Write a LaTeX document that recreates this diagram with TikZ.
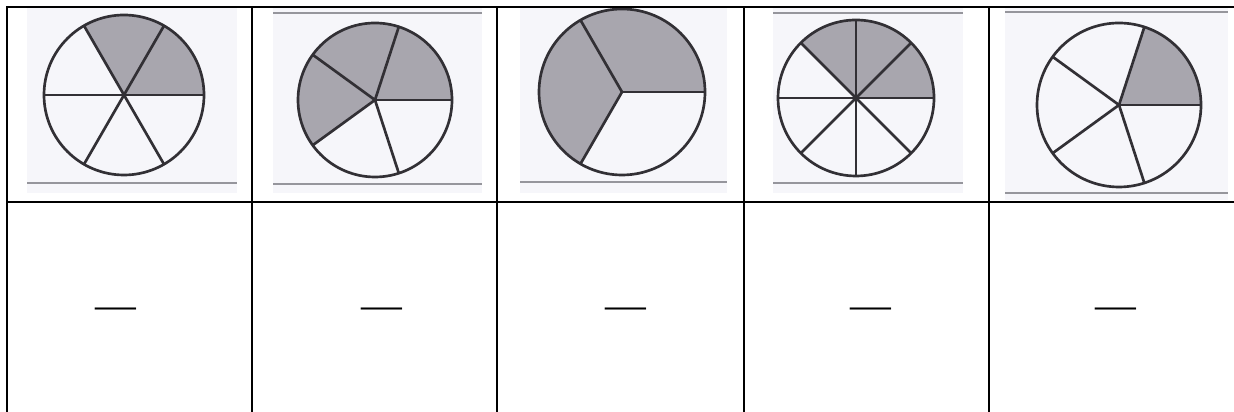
\documentclass[tikz,border=0pt]{standalone}
\usepackage{fontspec}
\newfontfamily\blankfont{Liberation Serif}
\usetikzlibrary{positioning}

\definecolor{scanbg}{RGB}{246,246,250}
\definecolor{scanline}{RGB}{150,150,156}
\definecolor{pieedge}{RGB}{50,48,53}
\definecolor{pieshade}{RGB}{168,166,174}

\begin{document}
\begin{tikzpicture}[
    x=0.025cm, y=0.025cm,
    grid/.style={draw=black, line width=1.4pt},
    scan/.style={fill=scanbg},
    scanrule/.style={draw=scanline, line width=1pt},
    slice/.style={fill=pieshade},
    pie/.style={draw=pieedge, line width=1.9pt},
    blank/.style={inner sep=0pt, anchor=north, font=\blankfont\fontsize{29}{29}\selectfont}
]
    \useasboundingbox (0,0) rectangle (1234,412);

    % Scanned picture backgrounds
    \foreach \xa/\xb/\yb in {27/237/219, 273/482/219, 520/727/219, 773/963/219, 1005/1228/212}
        \fill[scan] (\xa,\yb) rectangle (\xb,405);

    % Grey rules of the scans
    \foreach \xa/\xb/\y in {27/237/229, 273/482/399, 273/482/228, 520/727/230, 773/963/399, 773/963/229, 1005/1228/400, 1005/1228/219}
        \draw[scanrule] (\xa,\y) -- (\xb,\y);

    % Pies: centre x / centre y / radius / parts / shaded parts
    \foreach \cx/\cy/\r/\n/\k in {124/317/80/6/2, 375/312/77/5/3, 622/320/83/3/2, 856/314/78/8/3, 1119/307/82/5/1}{
        \fill[slice] (\cx,\cy) -- ++(0:\r) arc[start angle=0, end angle={360*\k/\n}, radius=\r] -- cycle;
        \foreach \i in {1,...,\n}
            \draw[pie] (\cx,\cy) -- ++({360*\i/\n}:\r);
        \draw[pie] (\cx,\cy) circle[radius=\r];
    }

    % Table rules
    \draw[grid, line join=miter] (7,0) -- (7,405) -- (1234,405);
    \draw[grid] (7,210) -- (1234,210);
    \foreach \x in {252,497,744,989}
        \draw[grid] (\x,0) -- (\x,405);

    % Answer blanks
    \foreach \x [count=\c] in {115.5,381.5,626,871,1115.5}
        \node[blank] (blank\c) at (\x,104) {—};

\end{tikzpicture}
\end{document}
